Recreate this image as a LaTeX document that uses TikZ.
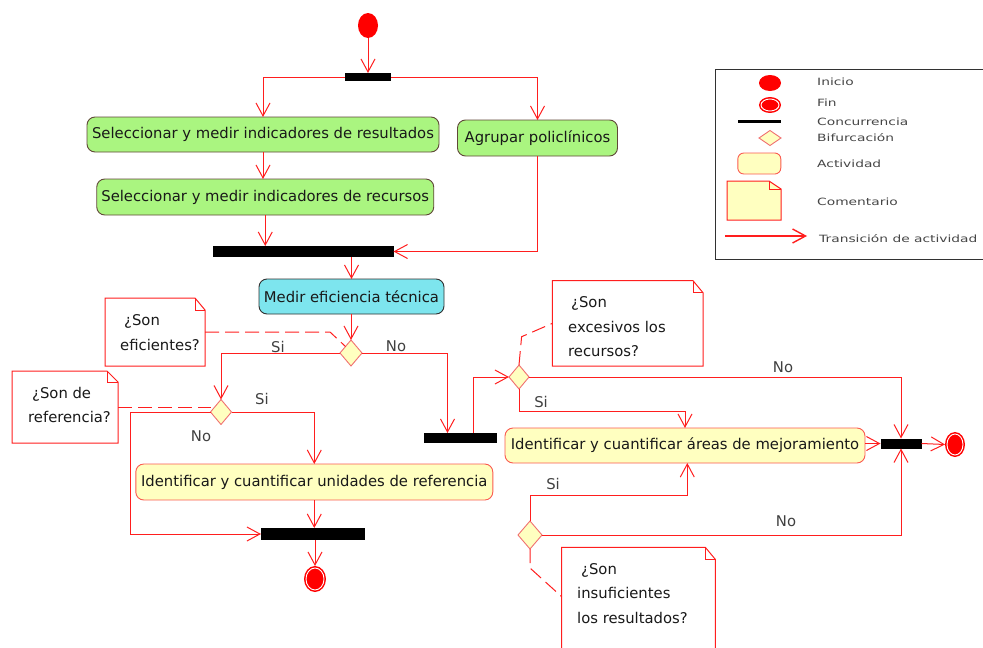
\documentclass[tikz,border=0pt]{standalone}
\usepackage{fontspec}
\usepackage{graphicx}
\setmainfont{DejaVu Sans}
\usetikzlibrary{arrows.meta,shapes.geometric,calc}
\definecolor{ln}{RGB}{255,30,30}
\definecolor{grn}{RGB}{170,245,128}
\definecolor{gbd}{RGB}{96,72,56}
\definecolor{cyn}{RGB}{125,229,238}
\definecolor{dbd}{RGB}{48,48,48}
\definecolor{ylw}{RGB}{255,255,192}
\definecolor{ybd}{RGB}{250,90,80}
\definecolor{dbr}{RGB}{240,112,112}
\definecolor{txtc}{RGB}{25,25,25}
\definecolor{lblc}{RGB}{64,64,64}
\definecolor{lgc}{RGB}{70,70,70}
\definecolor{lgb}{RGB}{50,50,50}
\newcommand{\drawnote}[4]{%
  \filldraw[notes, fill=#4] (#1.north west) -- ($(#1.north east)+(-#2,0)$) -- ($(#1.north east)+(0,#3)$) -- (#1.south east) -- (#1.south west) -- cycle;
  \draw[notes] ($(#1.north east)+(-#2,0)$) -- ($(#1.north east)+(-#2,#3)$) -- ($(#1.north east)+(0,#3)$);
}
\newcommand{\lgtext}[1]{\scalebox{1.38}[1]{#1}}
\begin{document}
\begin{tikzpicture}[x=1pt,y=-1pt,
  txt/.style={font=\fontsize{14.8}{17}\selectfont, text=txtc},
  act/.style={rounded corners=8pt, draw, line width=0.9pt, inner sep=0pt, outer sep=0pt, txt},
  gact/.style={act, fill=grn, draw=gbd},
  cact/.style={act, fill=cyn, draw=dbd},
  yact/.style={act, fill=ylw, draw=ybd},
  bar/.style={fill=black, inner sep=0pt, outer sep=0pt},
  dec/.style={diamond, fill=ylw, draw=dbr, line width=0.9pt, inner sep=0pt, outer sep=0pt},
  startc/.style={ellipse, fill=red, inner sep=0pt, outer sep=0pt},
  endc/.style={ellipse, fill=red, draw=red, double=white, double distance=0.9pt, line width=1.5pt, inner sep=0pt, outer sep=2pt},
  nt/.style={inner sep=0pt, outer sep=0pt},
  notes/.style={draw=ln, line width=1pt},
  ntxt/.style={font=\fontsize{14.8}{24.5}\selectfont, text=txtc, align=left, inner sep=0pt},
  lbl/.style={font=\fontsize{14.8}{17}\selectfont, text=lblc, inner sep=0pt},
  con/.style={draw=ln, line width=1pt, -{Straight Barb[length=13pt,width=14pt]}},
  dsh/.style={draw=ln, line width=1pt, dash pattern=on 14pt off 6pt},
  lgt/.style={font=\fontsize{10}{12}\selectfont, text=lgc, inner sep=0pt, anchor=west}
]
\useasboundingbox (0,0) rectangle (983,648);

% ---------- nodes ----------
\node[startc, minimum width=20pt, minimum height=25pt] (start) at (368,25.5) {};
\node[bar, minimum width=46pt, minimum height=8pt] (f1) at (368,77) {};
\node[gact, minimum width=352pt, minimum height=35pt] (a1) at (263,134.5) {Seleccionar y medir indicadores de resultados};
\node[gact, minimum width=337pt, minimum height=36pt] (a2) at (265.25,197) {Seleccionar y medir indicadores de recursos};
\node[gact, minimum width=160pt, minimum height=36pt] (ag) at (537.5,138) {Agrupar policlínicos};
\node[bar, minimum width=181pt, minimum height=11pt] (j1) at (303,251.5) {};
\node[cact, minimum width=185pt, minimum height=35pt] (me) at (351.5,296.5) {Medir eficiencia técnica};
\node[dec, minimum width=22pt, minimum height=26pt] (d1) at (351,353) {};
\node[dec, minimum width=21pt, minimum height=25pt] (d2) at (221,412) {};
\node[bar, minimum width=73pt, minimum height=10pt] (b3) at (460.5,438) {};
\node[dec, minimum width=20pt, minimum height=24pt] (d3) at (519,377) {};
\node[yact, minimum width=357pt, minimum height=36pt] (a3) at (314.3,482) {Identificar y cuantificar unidades de referencia};
\node[bar, minimum width=104pt, minimum height=12pt] (b4) at (313,534) {};
\node[endc, minimum width=18pt, minimum height=22pt] (e1) at (315,579) {};
\node[yact, minimum width=360pt, minimum height=35pt] (a4) at (685,445.5) {Identificar y cuantificar áreas de mejoramiento};
\node[bar, minimum width=41pt, minimum height=10pt] (b5) at (901,443.5) {};
\node[endc, minimum width=16pt, minimum height=21pt] (e2) at (955,444.5) {};
\node[dec, minimum width=24pt, minimum height=28pt] (d4) at (530,535) {};

% ---------- notes ----------
\node[nt, minimum width=100pt, minimum height=68pt] (n1) at (155,332) {};
\drawnote{n1}{10}{12}{white}
\node[ntxt, anchor=west] (n1t) at (120,332.5) {\hspace*{4pt}¿Son\\eficientes?};
\node[nt, minimum width=106pt, minimum height=72pt] (n2) at (65,407) {};
\drawnote{n2}{11}{11}{white}
\node[ntxt, anchor=west] (n2t) at (28,405) {\hspace*{4pt}¿Son de\\referencia?};
\node[nt, minimum width=150.6pt, minimum height=85.3pt] (n3) at (627.7,323.35) {};
\drawnote{n3}{10}{12}{white}
\node[ntxt, anchor=west] (n3t) at (568,327) {\hspace*{3pt}¿Son\\excesivos los\\recursos?};
\node[nt, minimum width=153.6pt, minimum height=117.7pt] (n4) at (638.5,606.15) {};
\drawnote{n4}{10}{12}{white}
\node[ntxt, anchor=west] (n4t) at (577,593.5) {\hspace*{4pt}¿Son\\insuficientes\\los resultados?};

% ---------- connectors ----------
\draw[con] (start.south) -- (f1.north);
\draw[con] (f1.west) -| (a1.north);
\draw[con] (f1.east) -| (ag.north);
\draw[con] (a1.south) -- (a1.south |- a2.north);
\draw[con] (a2.south) -- (a2.south |- j1.north);
\draw[con] (ag.south) |- (j1.east);
\draw[con] (me.north |- j1.south) -- (me.north);
\draw[con] (d1.north |- me.south) -- (d1.north);
\draw[con] (d1.west) -| (d2.north);
\draw[con] (d1.east) -| ($(b3.north)+(-13,0)$);
\draw[con] ($(b3.north)+(12.5,0)$) |- (d3.west);
\draw[con] (d3.east) -| (b5.north);
\draw[con] (d3.south) -- ++(0,22) -| (a4.north);
\draw[con] (d2.east) -| (a3.north);
\draw[con] (d2.west) -- ++(-80,0) |- (b4.west);
\draw[con] (a3.south) -- (a3.south |- b4.north);
\draw[con] (e1.north |- b4.south) -- (e1.north);
\draw[con] (b5.west -| a4.east) -- (b5.west);
\draw[con] (b5.east) -- (e2.west);
\draw[con] (d4.north) -- ++(0,-25.3) -| ($(a4.south)+(2.3,0)$);
\draw[con] (d4.east) -| (b5.south);

% dashed note links
\draw[dsh] (n1.east) -- ++(125,0) -- (d1.north west);
\draw[dsh] (n2.east) -- (n2.east -| d2.west);
\draw[dsh] (d3.north) -- ++(2.6,-28.3) -- (n3.west);
\draw[dsh] (d4.south) -- ++(0,19) -- ($(n4.north west)+(0,49.4)$);

% labels
\node[lbl] (l1) at (278,347) {Si};
\node[lbl] (l2) at (396,346) {No};
\node[lbl] (l3) at (262,399) {Si};
\node[lbl] (l4) at (201,436) {No};
\node[lbl] (l5) at (783,367) {No};
\node[lbl] (l6) at (541,402) {Si};
\node[lbl] (l7) at (553,484) {Si};
\node[lbl] (l8) at (786,521) {No};

% ---------- legend ----------
\node[draw=lgb, line width=0.9pt, minimum width=290pt, minimum height=190pt, anchor=north west, inner sep=0pt, outer sep=0pt] (lg) at (715,69) {};
\node[startc, minimum width=22pt, minimum height=16pt] (li) at (770,83) {};
\node[endc, minimum width=18pt, minimum height=12pt] (lf) at (770,105) {};
\node[bar, minimum width=43pt, minimum height=3.5pt] (lc) at (759.3,121.7) {};
\node[dec, minimum width=22pt, minimum height=15pt] (ld) at (770,138) {};
\node[yact, minimum width=43pt, minimum height=21pt, rounded corners=6pt] (la) at (759.3,163.5) {};
\node[nt, minimum width=54pt, minimum height=39pt] (lnote) at (754,200.5) {};
\drawnote{lnote}{12}{8}{ylw}
\coordinate (lt1) at (725,236);
\coordinate (lt2) at (807,236);
\draw[con, line width=1.4pt] (lt1) -- (lt2);
\node[lgt] (tx1) at (817,82) {\lgtext{Inicio}};
\node[lgt] (tx2) at (817,102.7) {\lgtext{Fin}};
\node[lgt] (tx3) at (817,122) {\lgtext{Concurrencia}};
\node[lgt] (tx4) at (817,137.7) {\lgtext{Bifurcación}};
\node[lgt] (tx5) at (817,164) {\lgtext{Actividad}};
\node[lgt] (tx6) at (817,201.7) {\lgtext{Comentario}};
\node[lgt] (tx7) at (819,238.3) {\lgtext{Transición de actividad}};
\end{tikzpicture}
\end{document}
